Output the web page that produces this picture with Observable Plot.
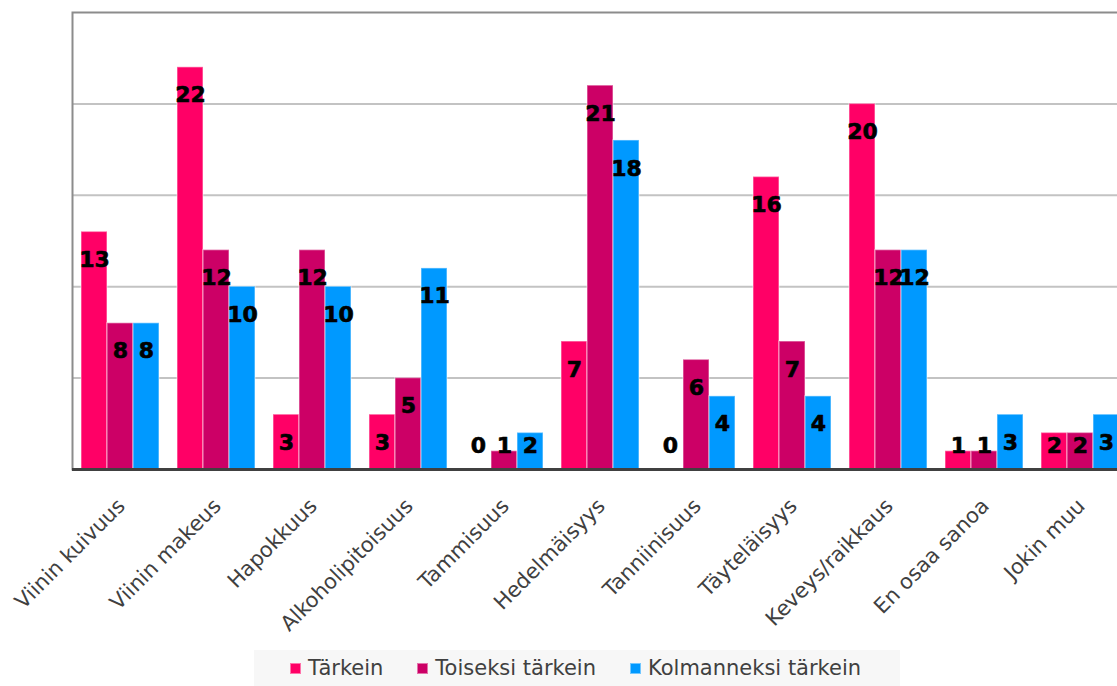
<!DOCTYPE html>
<html><head><meta charset="utf-8">
<script src="https://cdn.jsdelivr.net/npm/d3@7"></script>
<script src="https://cdn.jsdelivr.net/npm/@observablehq/plot@0.6"></script>
<style>
html,body{margin:0;padding:0;background:#fff;overflow:hidden;width:1117px;height:686px;position:relative;}
#legend{position:absolute;left:254px;top:650px;width:646px;height:36px;background:#f7f7f7;display:flex;flex-wrap:nowrap;align-items:center;padding-left:36px;box-sizing:border-box;font-family:"DejaVu Sans";font-size:21px;color:#404040;white-space:nowrap;}
.item{display:flex;align-items:center;margin-right:34px;flex:0 0 auto;}
.sw{width:11px;height:11px;margin-right:7px;box-sizing:border-box;border:1px solid rgba(255,255,255,0.45);}
</style></head><body><div id="chart"></div><div id="legend"></div>
<script>
const categories = ["Viinin kuivuus","Viinin makeus","Hapokkuus","Alkoholipitoisuus","Tammisuus","Hedelmäisyys","Tanniinisuus","Täyteläisyys","Keveys/raikkaus","En osaa sanoa","Jokin muu"];
const tarkein = [13,22,3,3,0,7,0,16,20,1,2];
const toiseksiTarkein = [8,12,12,5,1,21,6,7,12,1,2];
const kolmanneksiTarkein = [8,10,10,11,2,18,4,4,12,3,3];
const seriesNames = ["Tärkein","Toiseksi tärkein","Kolmanneksi tärkein"];
const seriesColors = ["#ff0066","#cc0066","#0099ff"];
const gridValues = [5,10,15,20];
const yMax = 25;

const seriesValues = [tarkein, toiseksiTarkein, kolmanneksiTarkein];
const rows = categories.flatMap((c,i)=>seriesValues.map((vals,s)=>({category:c, s, series:seriesNames[s], value:vals[i]})));

const W = 1117, H = 648, mT = 12, mB = 179;
const unit = (H - mT - mB) / yMax;
const labelY = d => Math.max(d.value - 28/unit, 24/unit);
const barW = 26;

const chart = Plot.plot({
  width: W, height: H,
  marginLeft: 72, marginRight: -11, marginTop: mT, marginBottom: mB,
  style: {fontFamily: "DejaVu Sans", maxWidth: "none", background: "white"},
  x: {domain: categories, paddingInner: 0.1875, paddingOuter: 0.09375},
  y: {domain: [0, yMax], axis: null},
  marks: [
    Plot.ruleY(gridValues, {stroke: "#c3c3c3", strokeWidth: 2}),
    Plot.frame({stroke: "#8c8c8c", strokeWidth: 2}),
    ...seriesNames.map((n,s)=>Plot.barY(rows.filter(r=>r.s===s), {
      x: "category", y: "value", fill: seriesColors[s],
      insetLeft: s*barW, insetRight: (2-s)*barW,
      stroke: "white", strokeOpacity: 0.4, strokeWidth: 1.5
    })),
    ...seriesNames.map((n,s)=>Plot.text(rows.filter(r=>r.s===s), {
      x: "category", y: labelY, text: d=>String(d.value), dx: (s-1)*barW,
      fontWeight: "bold", fontSize: 22, fill: "black", stroke: "black", strokeWidth: 0.6
    })),
    Plot.ruleY([0], {stroke: "#404040", strokeWidth: 3}),
    Plot.axisX({tickRotate: -45, tickSize: 0, tickPadding: 33, dx: 1, fontSize: 21, fill: "#404040", label: null})
  ]
});
document.getElementById("chart").appendChild(chart);

const legend = document.getElementById("legend");
seriesNames.forEach((n,s)=>{
  const it = document.createElement("div"); it.className = "item";
  const sw = document.createElement("div"); sw.className = "sw"; sw.style.background = seriesColors[s];
  const t = document.createElement("span"); t.textContent = n;
  it.appendChild(sw); it.appendChild(t); legend.appendChild(it);
});
</script></body></html>
